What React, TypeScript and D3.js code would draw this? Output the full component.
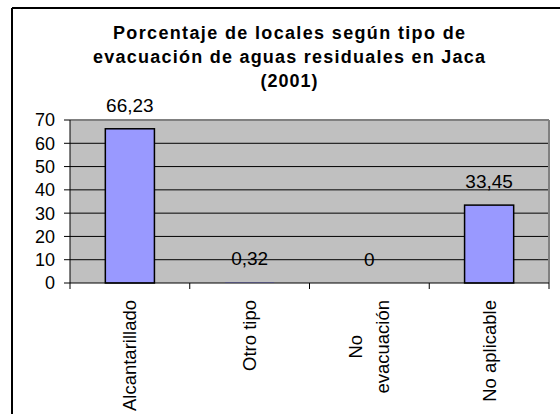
import React from "react";
import * as d3 from "d3";

const categories = ["Alcantarillado", "Otro tipo", "No evacuación", "No aplicable"];
const categoryLines = [["Alcantarillado"], ["Otro tipo"], ["No", "evacuación"], ["No aplicable"]];
const values = [66.23, 0.32, 0, 33.45];
const yTicks = [0, 10, 20, 30, 40, 50, 60, 70];
const titleLines = [
  "Porcentaje de locales según tipo de",
  "evacuación de aguas residuales en Jaca",
  "(2001)",
];
const titleWidths = [352, 392, 57];

const W = 560;
const H = 414;
const FONT = "'Liberation Sans', Arial, Helvetica, sans-serif";

const plot = { left: 70, right: 549, top: 120, bottom: 283 };

function measure(text: string, size: number): number {
  try {
    const c = document.createElement("canvas");
    const ctx = c.getContext("2d");
    if (ctx) {
      ctx.font = `${size}px 'Liberation Sans', Arial, sans-serif`;
      return ctx.measureText(text).width;
    }
  } catch (e) {}
  return text.length * size * 0.5;
}

const fmt = (v: number) => String(v).replace(".", ",");

export default function App() {
  const x = d3
    .scaleBand<string>()
    .domain(categories)
    .range([plot.left, plot.right])
    .paddingInner(0.59)
    .paddingOuter(0.295);
  const xCat = d3.scaleBand<string>().domain(categories).range([plot.left, plot.right]);
  const y = d3.scaleLinear().domain([0, 70]).range([plot.bottom, plot.top]);

  const catSize = 18.5;
  const lineGap = 27;
  const labelTop = 300;

  const boundaries = [plot.left, ...categories.map((c) => (xCat(c) as number) + xCat.bandwidth())];

  return (
    <svg
      width={W}
      height={H}
      style={{ position: "absolute", left: 0, top: 0, background: "#fff" }}
      fontFamily={FONT}
    >
      <rect x={0} y={0} width={W} height={H} fill="#fff" />
      {/* outer chart border (clipped on right/bottom) */}
      <line x1={12} y1={8} x2={W + 5} y2={8} stroke="#000" strokeWidth={2} />
      <line x1={12} y1={8} x2={12} y2={H + 5} stroke="#000" strokeWidth={2} />

      {/* title */}
      {titleLines.map((t, i) => (
        <text
          key={i}
          x={289}
          y={39 + i * 24}
          textAnchor="middle"
          fontSize={18}
          fontWeight="bold"
          fill="#000"
          textLength={titleWidths[i]}
          lengthAdjust="spacing"
        >
          {t}
        </text>
      ))}

      {/* plot area */}
      <rect
        x={plot.left}
        y={plot.top}
        width={plot.right - plot.left}
        height={plot.bottom - plot.top}
        fill="#C0C0C0"
      />
      {yTicks
        .filter((t) => t > 0 && t < 70)
        .map((t) => (
          <line key={t} x1={plot.left} x2={plot.right} y1={y(t)} y2={y(t)} stroke="#000" strokeWidth={1} />
        ))}
      <line x1={plot.left} x2={plot.right} y1={y(70)} y2={y(70)} stroke="#808080" strokeWidth={2} />
      <line x1={plot.right} x2={plot.right} y1={y(70)} y2={plot.bottom} stroke="#808080" strokeWidth={2} />

      {/* bars */}
      {categories.map((c, i) => {
        const h = Math.max(0, plot.bottom - y(values[i]));
        return (
          <rect
            key={c}
            x={x(c)}
            y={y(values[i])}
            width={x.bandwidth()}
            height={h}
            fill="#9999FF"
            stroke={h >= 2 ? "#000" : "none"}
            strokeWidth={1.5}
          />
        );
      })}

      {/* axes */}
      <line x1={plot.left} x2={plot.left} y1={plot.top} y2={plot.bottom} stroke="#000" strokeWidth={1} />
      <line x1={plot.left} x2={plot.right} y1={plot.bottom} y2={plot.bottom} stroke="#000" strokeWidth={1} />
      {yTicks.map((t) => (
        <g key={t}>
          <line x1={plot.left - 6} x2={plot.left} y1={y(t)} y2={y(t)} stroke="#000" strokeWidth={1} />
          <text x={55} y={y(t)} dy="0.36em" textAnchor="end" fontSize={18} fill="#000">
            {t}
          </text>
        </g>
      ))}
      {boundaries.map((b, i) => (
        <line key={i} x1={b} x2={b} y1={plot.bottom} y2={plot.bottom + 6} stroke="#000" strokeWidth={1} />
      ))}

      {/* value labels */}
      {categories.map((c, i) => (
        <text
          key={c}
          x={(x(c) as number) + x.bandwidth() / 2}
          y={y(values[i]) - 17}
          textAnchor="middle"
          fontSize={19}
          fill="#000"
        >
          {fmt(values[i])}
        </text>
      ))}

      {/* category labels */}
      {categories.map((c, i) => {
        const lines = categoryLines[i];
        const maxW = Math.max(...lines.map((l) => measure(l, catSize)));
        const cx = (xCat(c) as number) + xCat.bandwidth() / 2;
        const cy = labelTop + maxW / 2;
        return (
          <g key={c}>
            {lines.map((l, j) => {
              const off = (j - (lines.length - 1) / 2) * lineGap;
              return (
                <text
                  key={j}
                  transform={`translate(${cx + off},${cy}) rotate(-90)`}
                  textAnchor="middle"
                  dy="0.35em"
                  fontSize={catSize}
                  fill="#000"
                >
                  {l}
                </text>
              );
            })}
          </g>
        );
      })}
    </svg>
  );
}
